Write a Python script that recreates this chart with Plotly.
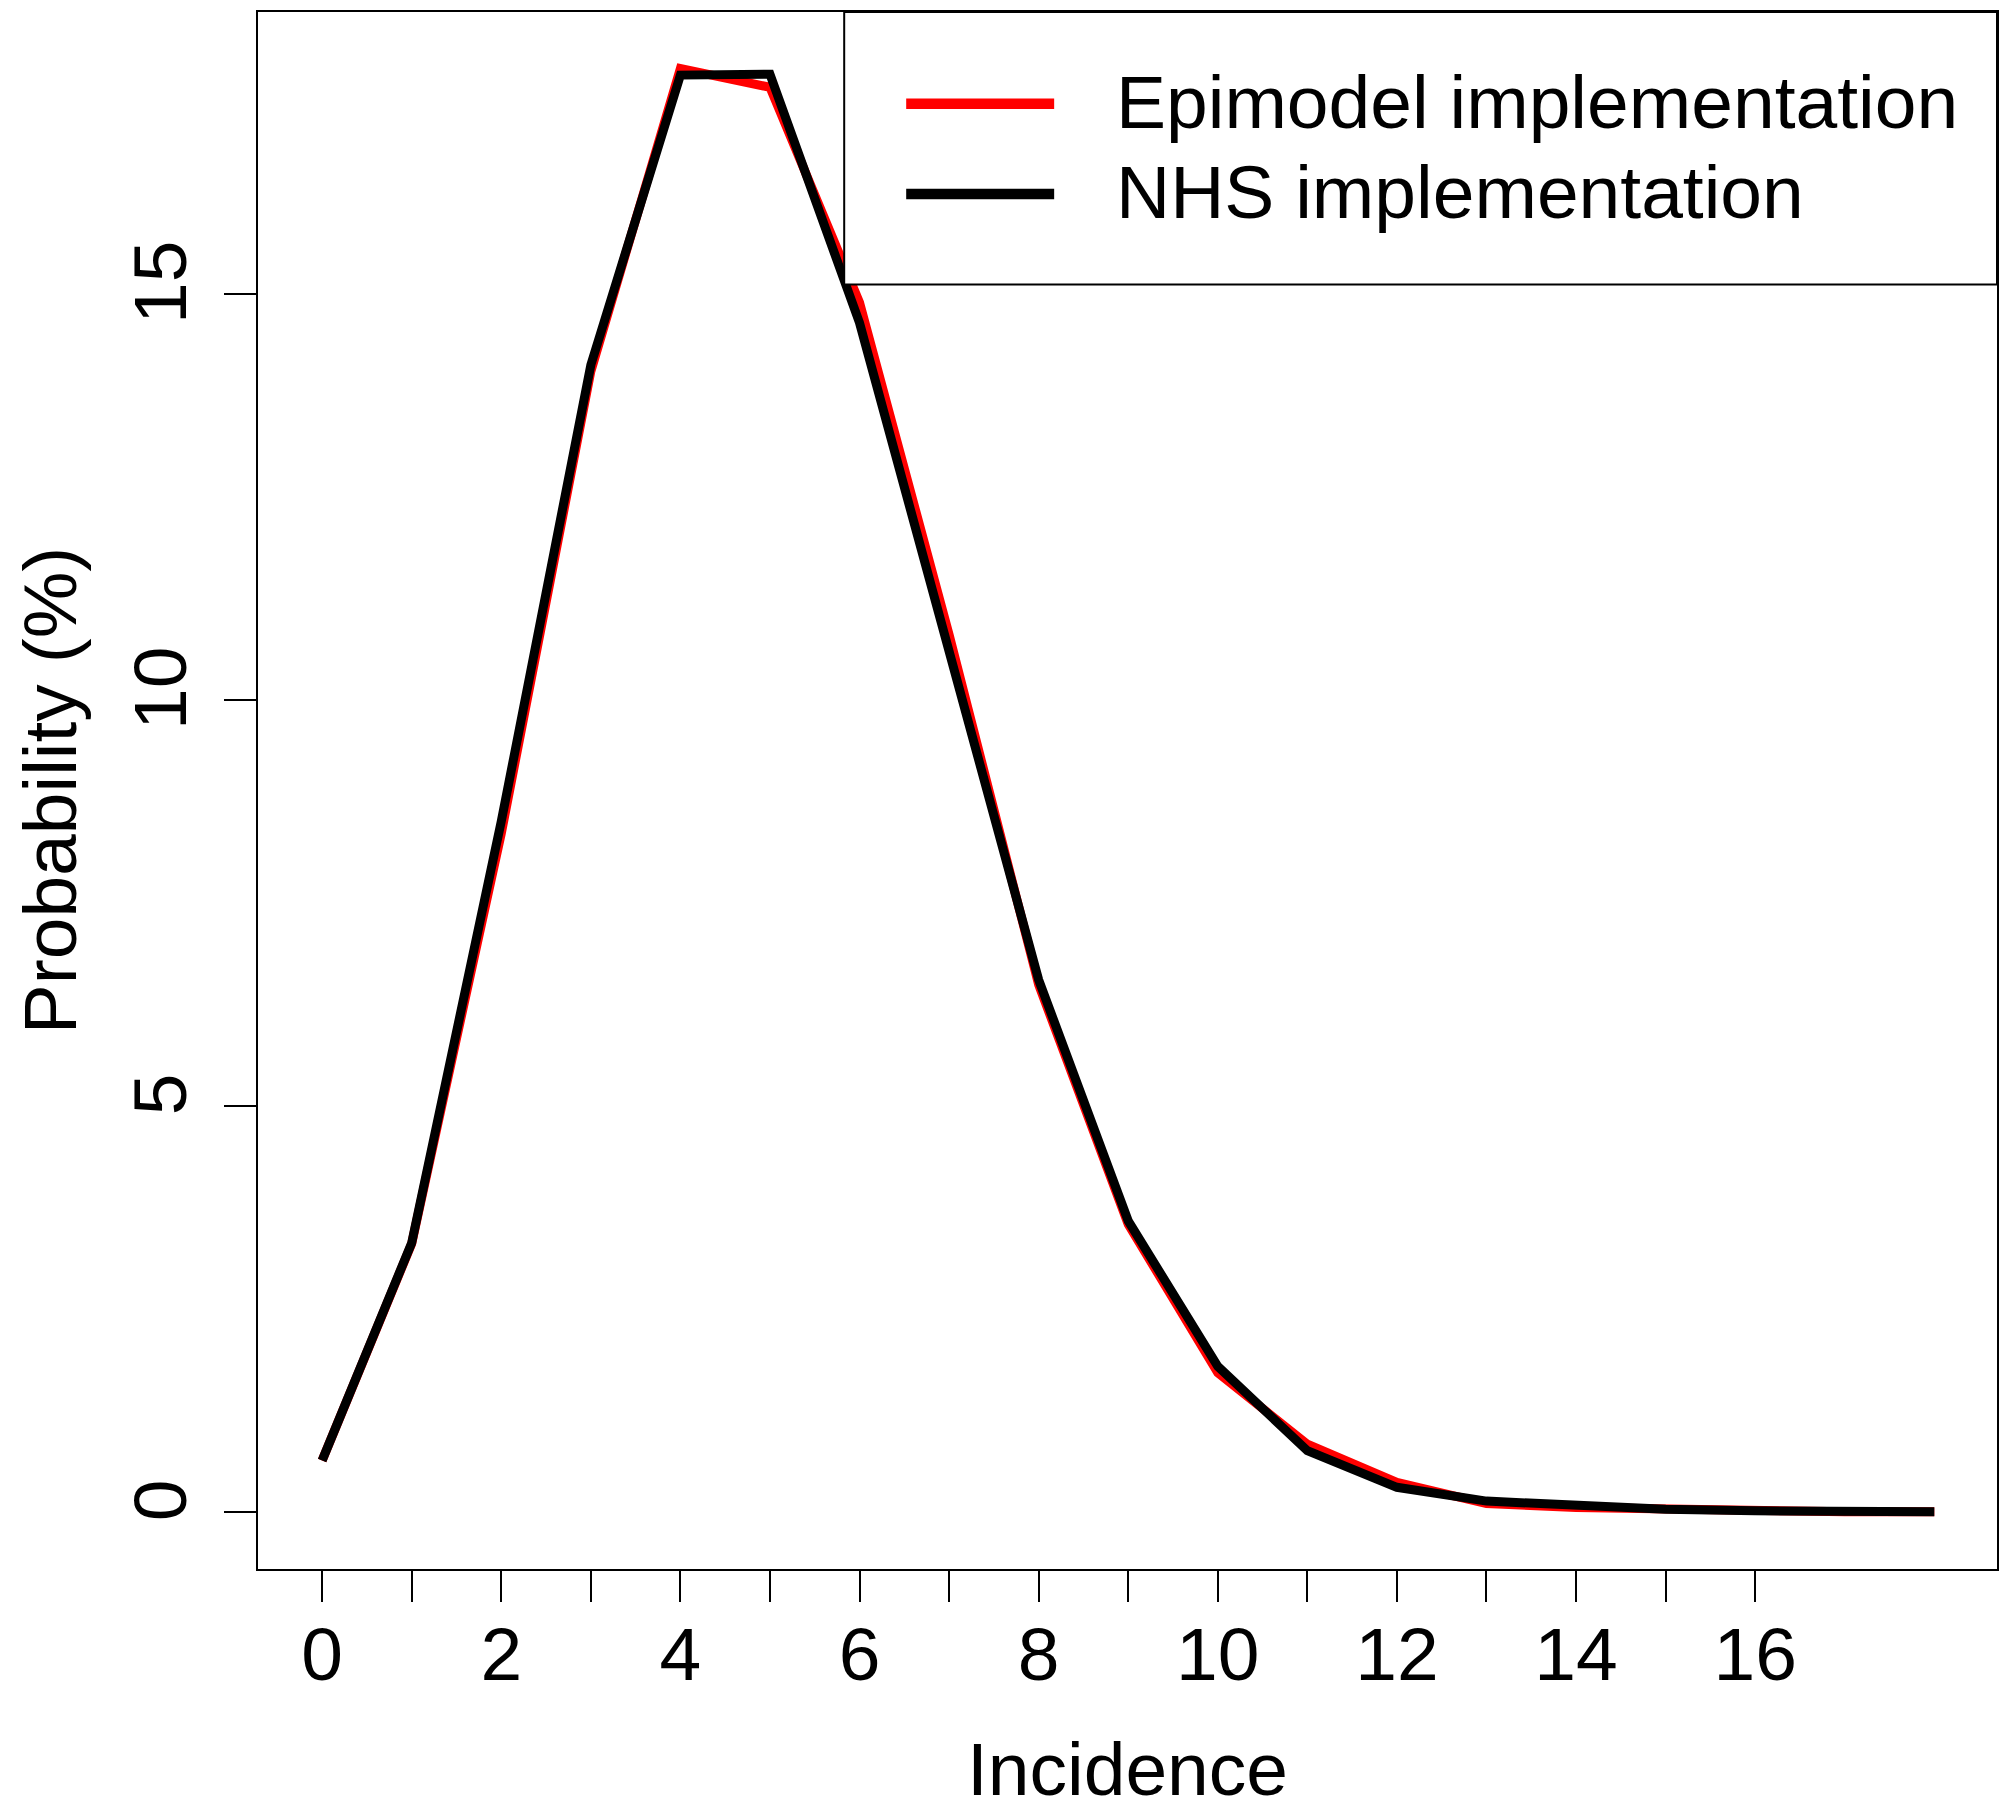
import plotly.graph_objects as go

incidence = list(range(19))
epimodel = [0.63, 3.30, 8.35, 14.04, 17.77, 17.54, 14.89, 10.80, 6.49, 3.54,
            1.71, 0.83, 0.36, 0.10, 0.05, 0.03, 0.01, 0.00, 0.00]
nhs = [0.63, 3.31, 8.50, 14.12, 17.69, 17.70, 14.64, 10.58, 6.55, 3.58,
       1.79, 0.75, 0.30, 0.13, 0.07, 0.03, 0.01, 0.00, 0.00]
series_names = ["Epimodel implementation", "NHS implementation"]
series_colors = ["#FF0000", "#000000"]
x_tick_vals = list(range(17))
x_tick_text = [str(v) if v % 2 == 0 else "" for v in x_tick_vals]
y_tick_vals = [0, 5, 10, 15]
x_title = "Incidence"
y_title = "Probability (%)"

FONT = "Liberation Sans, Arial, sans-serif"
FS = 75

fig = go.Figure()
for name, ys, col in zip(series_names, [epimodel, nhs], series_colors):
    fig.add_trace(go.Scatter(x=incidence, y=ys, mode="lines", name=name,
                             line=dict(color=col, width=9), showlegend=False))

# page body has an 8px default margin, so the figure is offset by 8px
OFF = 8
W, H = 2010 - OFF, 1811 - OFF
L, R, T, B = 257.7 - OFF, 1997.0 - OFF, 10.3 - OFF, 1570.0 - OFF
pw, ph = R - L, B - T

def px(X):
    return (X - OFF - L) / pw

def py(Y):
    return (B - (Y - OFF)) / ph

shapes = [dict(type="rect", xref="paper", yref="paper",
               x0=px(844), x1=1.0, y0=py(283.3), y1=1.0,
               line=dict(color="black", width=2), fillcolor="white", layer="above")]
annotations = []
legend_y = [102.3, 192.7]
for name, col, Y in zip(series_names, series_colors, legend_y):
    shapes.append(dict(type="line", xref="paper", yref="paper",
                       x0=px(906), x1=px(1054), y0=py(Y), y1=py(Y),
                       line=dict(color=col, width=10.5), layer="above"))
    annotations.append(dict(xref="paper", yref="paper", x=px(1114), y=py(Y - 2),
                            xanchor="left", yanchor="middle", showarrow=False,
                            text=name, font=dict(family=FONT, size=FS, color="black")))

fig.update_layout(
    width=W, height=H,
    margin=dict(l=L, r=W - R, t=T, b=H - B),
    paper_bgcolor="white", plot_bgcolor="white",
    font=dict(family=FONT, size=FS, color="black"),
    shapes=shapes, annotations=annotations,
    xaxis=dict(range=[-0.716, 18.70], tickvals=x_tick_vals, ticktext=x_tick_text,
               ticks="outside", ticklen=31, tickwidth=2, tickcolor="black",
               showline=True, linewidth=2, linecolor="black", mirror=True,
               showgrid=False, zeroline=False, ticklabelstandoff=-12,
               tickfont=dict(family=FONT, size=FS),
               title=dict(text=x_title, font=dict(family=FONT, size=FS), standoff=60)),
    yaxis=dict(range=[-0.706, 18.467], tickvals=y_tick_vals,
               ticks="outside", ticklen=32, tickwidth=2, tickcolor="black",
               showline=True, linewidth=2, linecolor="black", mirror=True,
               showgrid=False, zeroline=False, tickangle=-90, ticklabelstandoff=8,
               tickfont=dict(family=FONT, size=FS),
               title=dict(text=y_title, font=dict(family=FONT, size=FS), standoff=37)),
)

fig.write_html("out.html")
